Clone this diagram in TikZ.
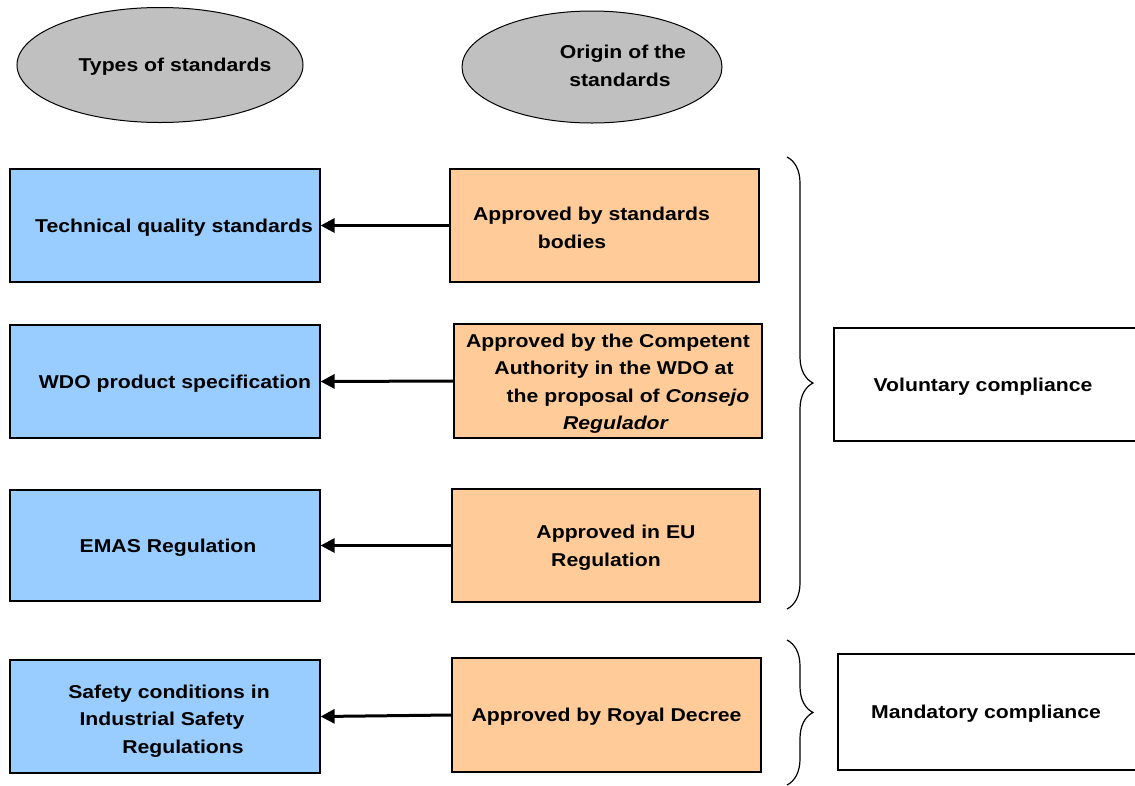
\documentclass[tikz,border=0pt]{standalone}
\usepackage{fontspec}
\setmainfont[FakeStretch=1.14]{Liberation Sans}
\usetikzlibrary{shapes.geometric,arrows.meta,decorations.pathreplacing}
\definecolor{typeblue}{HTML}{99CCFF}
\definecolor{origorange}{HTML}{FFCC99}
\definecolor{headgrey}{HTML}{C0C0C0}
\newcommand{\upstrut}[1]{\rule{0pt}{#1}}
\begin{document}
\begin{tikzpicture}[x=1pt,y=-1pt,
    font=\fontsize{18.6}{27.5}\selectfont\bfseries,
    head/.style={ellipse,draw,fill=headgrey,line width=1pt,inner sep=0pt,
      minimum width=286,minimum height=115},
    typebox/.style={draw,fill=typeblue,line width=1.2pt,inner sep=0pt,
      minimum width=310,minimum height=113,align=center},
    origbox/.style={draw,fill=origorange,line width=1.2pt,inner sep=0pt,
      minimum width=308,minimum height=113,align=center},
    compbox/.style={draw,fill=white,line width=1.2pt,inner sep=0pt,
      minimum width=304,minimum height=114},
    oneline/.style={text height=13.5pt,text depth=0pt},
    arr/.style={line width=3pt,-{Triangle[length=14pt,width=14pt]}},
    brace/.style={decorate,line width=1.2pt,
      decoration={brace,amplitude=26pt}}]
  \useasboundingbox (0,0) rectangle (1135,785);
  % headings
  \node[head,oneline] (types) at (160,65)
    {\makebox[0pt]{\hspace*{30pt}Types of standards}};
  \node[head,minimum width=260,minimum height=112] (origin) at (592,67)
    {\makebox[0pt]{\hspace*{56pt}\begin{tabular}{@{}c@{}}
      \upstrut{16pt}\hspace*{6pt}Origin of the\\standards\end{tabular}}};
  % types of standards
  \node[typebox,oneline] (type1) at (165,225.5)
    {\hspace*{18pt}Technical quality standards};
  \node[typebox,oneline] (type2) at (165,381.5)
    {\hspace*{20pt}WDO product specification};
  \node[typebox,oneline,minimum height=111] (type3) at (165,545.5)
    {\hspace*{6pt}EMAS Regulation};
  \node[typebox] (type4) at (165,716.5)
    {\upstrut{22pt}\hspace*{8pt}Safety conditions in\\
     \hspace*{-6pt}Industrial Safety\\
     \hspace*{36pt}Regulations};
  % origin of the standards
  \node[origbox,minimum width=309] (orig1) at (604.5,225.5)
    {\upstrut{18pt}\hspace*{-26pt}Approved by standards\\
     \hspace*{-65pt}bodies};
  \node[origbox,minimum height=114] (orig2) at (608,381)
    {\upstrut{19pt}Approved by the Competent\\
     \hspace*{12pt}Authority in the WDO at\\
     \hspace*{40pt}the proposal of \textit{Consejo}\\
     \hspace*{16pt}\textit{Regulador}};
  \node[origbox] (orig3) at (606,545.5)
    {\upstrut{18pt}\hspace*{20pt}Approved in EU\\Regulation};
  \node[origbox,oneline,minimum width=309,minimum height=114] (orig4)
    at (606.5,715) {Approved by Royal Decree};
  % arrows
  \foreach \i in {1,...,4}
    \draw[arr] (orig\i.west) -- (type\i.east);
  % compliance
  \node[compbox,oneline,minimum width=306,minimum height=113] (volun)
    at (987,384.5) {\hspace*{-8pt}Voluntary compliance};
  \node[compbox,oneline,minimum width=302,minimum height=116] (mandat)
    at (989,712) {\hspace*{-6pt}Mandatory compliance};
  \draw[brace] (787,157) -- (787,609);
  \draw[brace] (787,640) -- (787,785);
\end{tikzpicture}
\end{document}
